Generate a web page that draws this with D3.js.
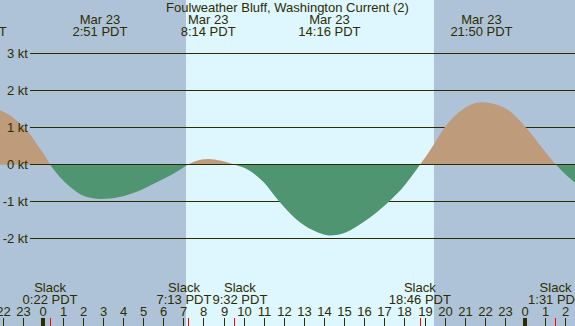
<!DOCTYPE html>
<html>
<head>
    <title>Foulweather Bluff, Washington Current (2)</title>
    <script src="https://d3js.org/d3.v7.min.js"></script>
    <style>
        body { margin: 0; background: #fff; }
        svg { display: block; }
        text {
            font-family: "Liberation Sans", Arial, sans-serif;
            font-size: 13px;
            fill: #2c2c00;
        }
    </style>
</head>
<body>
    <div id="chart"></div>

    <script>
        // hours from midnight Mar 23 (negative = Mar 22), current in knots
        const hours = [-2.13, -1.5, -0.93, -0.5, -0.23, 0, 0.37, 1.0, 1.19, 1.5, 2.0, 2.5, 2.85, 3.5, 4.0, 4.5,
            5.0, 5.5, 6.0, 6.5, 7.0, 7.22, 7.6, 8.23, 8.9, 9.53, 10.15, 11.0, 11.77, 12.6, 13.46, 14.28,
            15.1, 15.95, 17.24, 17.94, 18.78, 19.27, 20.0, 20.93, 21.83, 22.92, 24.05, 24.9, 25.53, 26.5];
        const knots = [1.47, 1.28, 1.0, 0.72, 0.5, 0.33, 0, -0.42, -0.52, -0.66, -0.84, -0.91, -0.93, -0.91, -0.86, -0.77,
            -0.66, -0.53, -0.39, -0.25, -0.08, 0, 0.09, 0.15, 0.10, 0, -0.12, -0.48, -1.0, -1.47, -1.78, -1.92,
            -1.83, -1.56, -1.0, -0.61, 0, 0.38, 1.0, 1.5, 1.68, 1.55, 1.0, 0.42, 0, -0.5];

        // max flood / ebb events (top labels)
        const maxHours = [-3.333, 2.85, 8.233, 14.267, 21.833];
        const maxDates = ["Mar 22", "Mar 23", "Mar 23", "Mar 23", "Mar 23"];
        const maxTimes = ["20:40 PDT", "2:51 PDT", "8:14 PDT", "14:16 PDT", "21:50 PDT"];

        // slack events (bottom labels)
        const slackHours = [0.367, 7.217, 9.533, 18.767, 25.517];
        const slackTimes = ["0:22 PDT", "7:13 PDT", "9:32 PDT", "18:46 PDT", "1:31 PDT"];

        const sunrise = 7.13, sunset = 19.47;
        const ktTicks = [3, 2, 1, 0, -1, -2];
        const hourTicks = d3.range(-2, 27);

        const width = 575, height = 326;
        const ink = "#2c2c00";
        const svg = d3.select("#chart").append("svg")
            .attr("width", width)
            .attr("height", height);

        const x = d3.scaleLinear()
            .domain([-42.7 / 20.096, (width - 42.7) / 20.096])
            .range([0, width]);
        const y = d3.scaleLinear().domain([-2, 3]).range([238, 53]);

        // night / day background
        svg.append("rect").attr("width", width).attr("height", height).attr("fill", "#afc3d8");
        svg.append("rect")
            .attr("x", x(sunrise)).attr("y", 0)
            .attr("width", x(sunset) - x(sunrise)).attr("height", height)
            .attr("fill", "#def6fe");

        // grid lines (under the curve)
        const grid = svg.append("g")
            .attr("transform", "translate(30,0)")
            .call(d3.axisLeft(y).tickValues(ktTicks).tickSize(-(width - 30)).offset(0.5).tickFormat(""));
        grid.select(".domain").remove();
        grid.selectAll("line").attr("stroke", ink);

        const data = hours.map((h, i) => ({ h: h, v: knots[i] }));
        const area = d3.area()
            .x(d => x(d.h))
            .y0(y(0) + 0.5)
            .y1(d => y(d.v) + 0.5)
            .curve(d3.curveMonotoneX);

        const defs = svg.append("defs");
        defs.append("clipPath").attr("id", "above")
            .append("rect").attr("x", 0).attr("y", 0).attr("width", width).attr("height", y(0) + 0.5);
        defs.append("clipPath").attr("id", "below")
            .append("rect").attr("x", 0).attr("y", y(0) + 0.5).attr("width", width).attr("height", height);

        svg.append("path").datum(data)
            .attr("clip-path", "url(#above)")
            .attr("fill", "#be9b7b")
            .attr("d", area);
        svg.append("path").datum(data)
            .attr("clip-path", "url(#below)")
            .attr("fill", "#509571")
            .attr("d", area);

        // zero line on top
        svg.append("line")
            .attr("x1", 30).attr("x2", width)
            .attr("y1", y(0) + 0.5).attr("y2", y(0) + 0.5)
            .attr("stroke", ink);

        // kt labels on top of the curve
        const yLabels = svg.append("g")
            .attr("transform", "translate(30,0)")
            .call(d3.axisLeft(y).tickValues(ktTicks).tickSize(0).tickPadding(2).offset(0.5)
                .tickFormat(d => d + " kt"));
        yLabels.select(".domain").remove();
        yLabels.selectAll("text").attr("fill", ink).style("font-size", "13px")
            .style("font-family", "'Liberation Sans', Arial, sans-serif");

        // title
        svg.append("text")
            .attr("x", width / 2).attr("y", 12)
            .attr("text-anchor", "middle")
            .text("Foulweather Bluff, Washington Current (2)");

        // max event labels
        const maxLabels = svg.append("g");
        maxHours.forEach((h, i) => {
            maxLabels.append("text").attr("x", x(h)).attr("y", 24).attr("text-anchor", "middle").text(maxDates[i]);
            maxLabels.append("text").attr("x", x(h)).attr("y", 36).attr("text-anchor", "middle").text(maxTimes[i]);
        });

        // slack labels, pushed apart when they would collide
        const slackLabels = svg.append("g");
        const groups = slackHours.map((h, i) => {
            const g = slackLabels.append("g").attr("transform", `translate(${x(h)},0)`);
            g.append("text").attr("y", 292).attr("text-anchor", "middle").text("Slack");
            const t = g.append("text").attr("y", 304).attr("text-anchor", "middle").text(slackTimes[i]);
            return { g: g, cx: x(h), w: t.node().getComputedTextLength() };
        });
        for (let i = 1; i < groups.length; i++) {
            const a = groups[i - 1], b = groups[i];
            const overlap = (a.cx + a.w / 2) - (b.cx - b.w / 2) + 1;
            if (overlap > 0) {
                a.cx -= overlap * 0.4;
                b.cx += overlap * 0.6;
            }
        }
        groups.forEach(d => d.g.attr("transform", `translate(${d.cx},0)`));

        // hour axis, ticks snapped to whole pixels
        const xAxis = svg.append("g")
            .attr("transform", `translate(0,${height})`)
            .call(d3.axisTop(x).tickValues(hourTicks).tickSize(8).tickPadding(2)
                .tickFormat(d => ((d % 24) + 24) % 24));
        xAxis.select(".domain").remove();
        xAxis.selectAll(".tick")
            .attr("transform", d => `translate(${Math.round(x(d)) + (d % 24 === 0 ? 0 : 0.5)},0)`);
        xAxis.selectAll("line").attr("stroke", ink)
            .attr("stroke-width", d => (d % 24 === 0 ? 4 : 1));
        xAxis.selectAll("text").attr("fill", ink).style("font-size", "13px")
            .style("font-family", "'Liberation Sans', Arial, sans-serif");

        // slack tick marks
        svg.append("g").selectAll("line")
            .data(slackHours)
            .join("line")
            .attr("x1", d => Math.round(x(d)) + 0.5).attr("x2", d => Math.round(x(d)) + 0.5)
            .attr("y1", 318).attr("y2", height)
            .attr("stroke", "#ff0000")
            .attr("stroke-width", 1);
    </script>
</body>
</html>
